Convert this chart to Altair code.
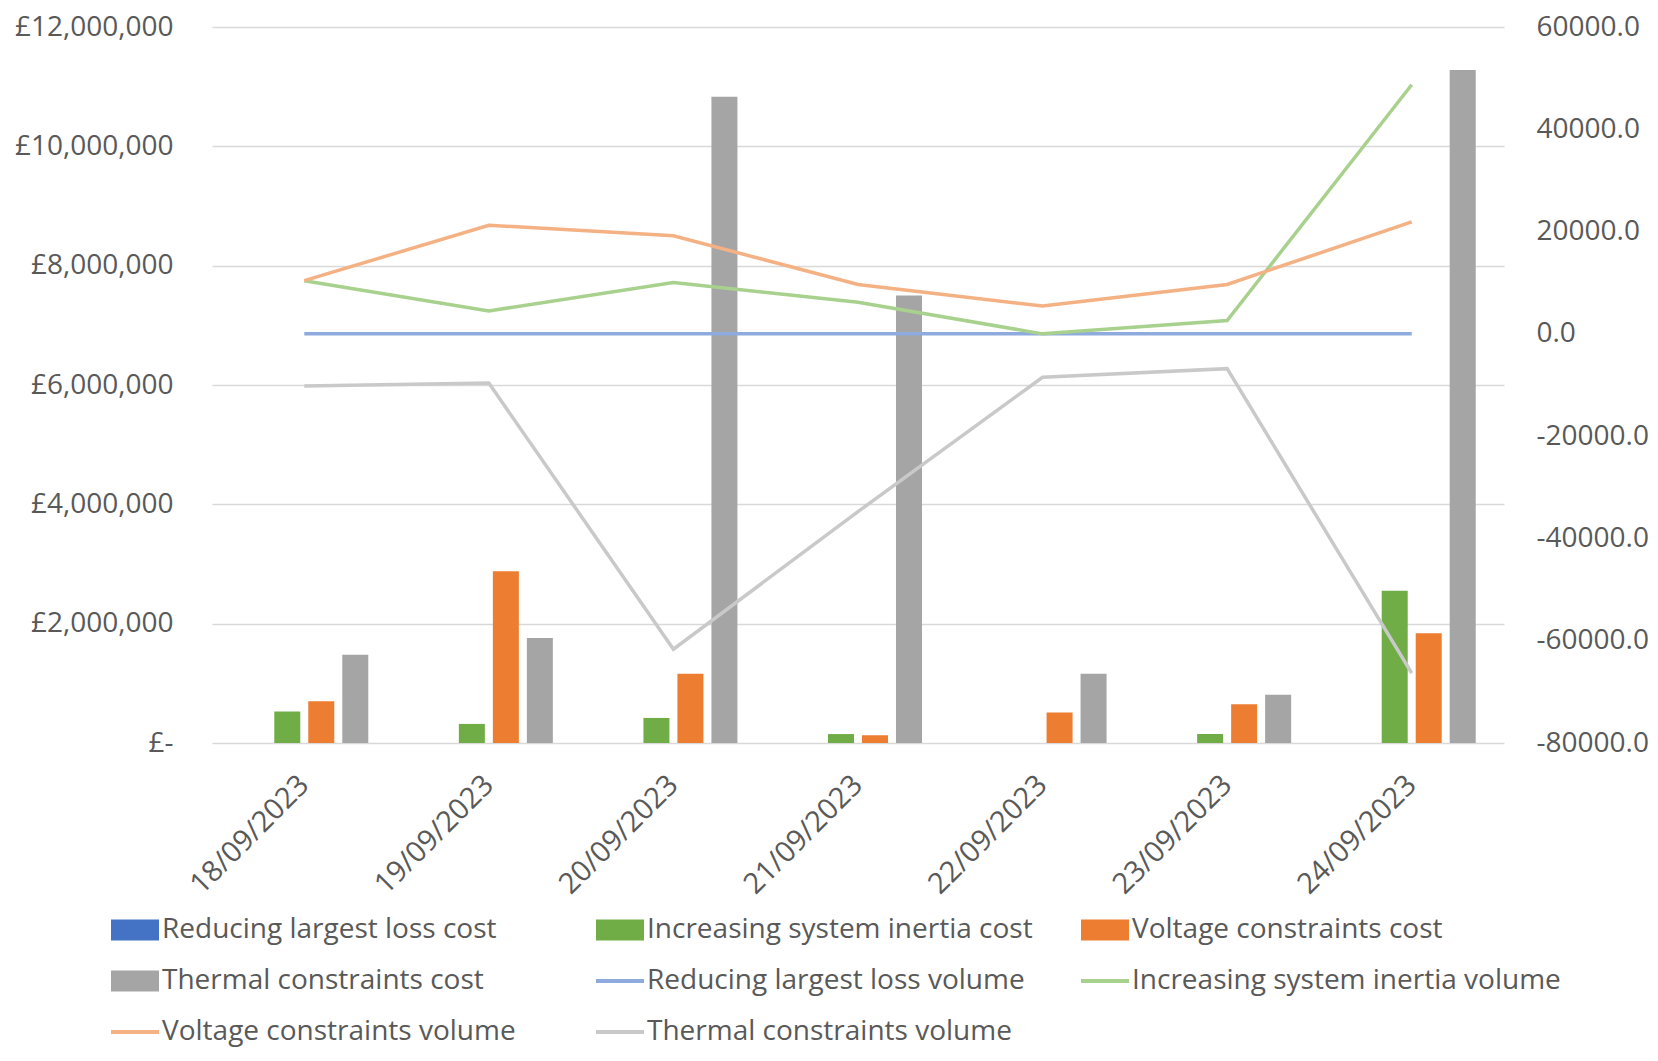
import altair as alt
import pandas as pd

dates = ["18/09/2023", "19/09/2023", "20/09/2023", "21/09/2023",
         "22/09/2023", "23/09/2023", "24/09/2023"]

cost_series = ["Reducing largest loss cost", "Increasing system inertia cost",
               "Voltage constraints cost", "Thermal constraints cost"]
vol_series = ["Reducing largest loss volume", "Increasing system inertia volume",
              "Voltage constraints volume", "Thermal constraints volume"]

# costs (GBP, left axis)
reducing_cost = [0, 0, 0, 0, 0, 0, 0]
inertia_cost = [530000, 320000, 420000, 150000, 0, 150000, 2550000]
voltage_cost = [700000, 2880000, 1160000, 130000, 510000, 650000, 1840000]
thermal_cost = [1480000, 1760000, 10830000, 7500000, 1160000, 810000, 11280000]

# volumes (right axis)
reducing_vol = [0, 0, 0, 0, 0, 0, 0]
inertia_vol = [10400, 4490, 10040, 6180, 0, 2600, 48700]
voltage_vol = [10400, 21240, 19170, 9660, 5430, 9660, 21900]
thermal_vol = [-10190, -9630, -61660, -34760, -8490, -6800, -66350]

cost_colors = ["#4472C4", "#70AD47", "#ED7D31", "#A5A5A5"]
vol_colors = ["#8FAADC", "#A9D18E", "#F4B183", "#C9C9C9"]

all_series = cost_series + vol_series

cost_rows = []
for s, vals in zip(cost_series, [reducing_cost, inertia_cost, voltage_cost, thermal_cost]):
    for d, v in zip(dates, vals):
        cost_rows.append({"date": d, "series": s, "value": v})
cost_df = pd.DataFrame(cost_rows)

vol_rows = []
for s, vals in zip(vol_series, [reducing_vol, inertia_vol, voltage_vol, thermal_vol]):
    for d, v in zip(dates, vals):
        vol_rows.append({"date": d, "series": s, "value": v})
vol_df = pd.DataFrame(vol_rows)

legend_df = pd.DataFrame({"series": all_series})

FONT = "Open Sans"
TXT = "#595959"

color_scale = alt.Scale(domain=all_series, range=cost_colors + vol_colors)
rect_path = "M-1,-0.44H1V0.44H-1Z"
line_path = "M-1,-0.08H1V0.08H-1Z"
shape_scale = alt.Scale(domain=all_series, range=[rect_path] * 4 + [line_path] * 4)

x_scale = alt.Scale(type="band", domain=dates, paddingInner=0.2632, paddingOuter=0.1316)
x_axis = alt.Axis(title=None, labelAngle=-45, labelPadding=27, labelOffset=-10, ticks=False,
                  domain=False, labelFont=FONT, labelFontSize=29, labelColor=TXT,
                  labelLimit=1000, grid=False)

leg = alt.Legend(title=None, orient="none", legendX=-101, legendY=879, columns=3,
                 direction="horizontal", gridAlign="all", symbolSize=2304, symbolOpacity=1,
                 symbolStrokeWidth=0, labelFont=FONT, labelFontSize=28, labelColor=TXT,
                 labelLimit=1000, labelOffset=3, columnPadding=5, rowPadding=13)

dummy = alt.Chart(legend_df).mark_point(filled=True, opacity=0).encode(
    color=alt.Color("series:N", scale=color_scale, legend=leg),
    shape=alt.Shape("series:N", scale=shape_scale, legend=leg),
)

bars = alt.Chart(cost_df).mark_bar().encode(
    x=alt.X("date:N", scale=x_scale, axis=x_axis),
    xOffset=alt.XOffset("series:N", scale=alt.Scale(domain=cost_series, paddingInner=0.235,
                                                     paddingOuter=0.1175)),
    y=alt.Y("value:Q",
            scale=alt.Scale(domain=[0, 12000000], nice=False),
            axis=alt.Axis(orient="left", title=None, values=list(range(0, 12000001, 2000000)),
                          labelExpr="datum.value == 0 ? '£-\u00a0\u00a0' : '£' + format(datum.value, ',')",
                          grid=True, gridColor="#D9D9D9", gridWidth=1.5, ticks=False, domain=False,
                          labelPadding=39, labelFont=FONT, labelFontSize=28, labelColor=TXT,
                          labelLimit=1000)),
    color=alt.Color("series:N", scale=color_scale),
)

lines = alt.Chart(vol_df).mark_line(strokeWidth=3.5).encode(
    x=alt.X("date:N", scale=x_scale, axis=x_axis, bandPosition=0.5),
    y=alt.Y("value:Q",
            scale=alt.Scale(domain=[-80000, 60000], nice=False, zero=False),
            axis=alt.Axis(orient="right", title=None, values=list(range(-80000, 60001, 20000)),
                          labelExpr="replace(format(datum.value, '.1f'), '\u2212', '-')",
                          grid=False, ticks=False, domain=False,
                          labelPadding=32, labelFont=FONT, labelFontSize=28, labelColor=TXT,
                          labelLimit=1000)),
    color=alt.Color("series:N", scale=color_scale),
)

chart = alt.layer(dummy, bars, lines).resolve_scale(y="independent").properties(
    width=1292, height=716,
    autosize=alt.AutoSizeParams(type="none"),
    padding={"left": 204, "top": 19, "right": 146, "bottom": 310},
).configure(font=FONT).configure_view(stroke="transparent", strokeWidth=0)

chart.save("out.html", embed_options={"renderer": "svg", "actions": False})
